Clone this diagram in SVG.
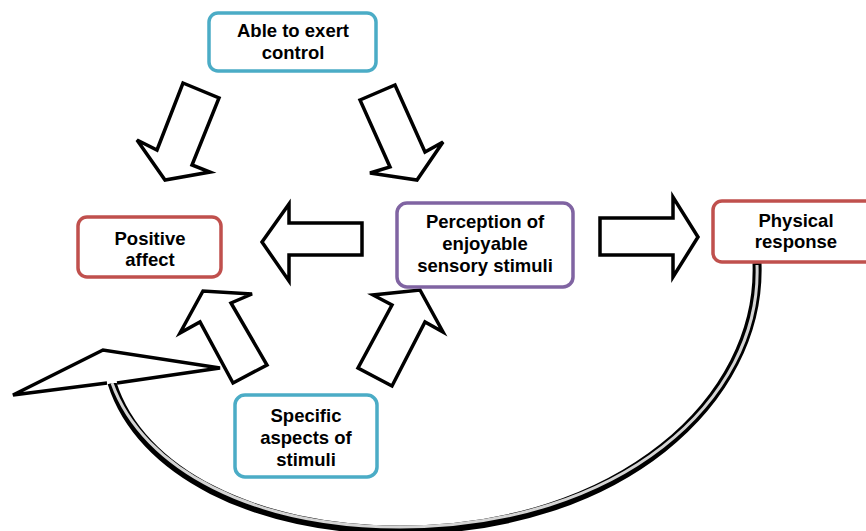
<svg xmlns="http://www.w3.org/2000/svg" width="866" height="531" viewBox="0 0 866 531">
<style>
.box{fill:#fff;stroke-width:3.5}
.teal{stroke:#4bacc6}
.red{stroke:#c0504d}
.purple{stroke:#8064a2}
.lbl{font-family:"Liberation Sans",Arial,sans-serif;font-weight:bold;font-size:18.5px;fill:#000;text-anchor:middle}
.blk{fill:#fff;stroke:#000;stroke-width:3.5;stroke-linejoin:miter}
</style>
<rect width="866" height="531" fill="#fff"/>
<g id="connectors">
  <polygon class="blk" points="183,83 219,98 192,165 210,172 165,180 137,140 157,150"/>
  <polygon class="blk" points="360,100 395,85 425,152 443,142 417,180 370,173 390,167"/>
  <polygon class="blk" points="362,223 289,223 289,204 262,242 289,281 289,255 362,255"/>
  <polygon class="blk" points="600,218 673,218 673,197 698,237 673,277 673,255 600,255"/>
  <polygon class="blk" points="233,383 267,365 231,303 252,294 203,291 180,333 200,322"/>
  <polygon class="blk" points="392,386 358,368 392,305 373,295 420,290 443,332 425,322"/>
  <g id="feedback">
    <path d="M757,263 C762,400 620,530 400,530 C255,530 140,472 112,383" fill="none" stroke="#000" stroke-width="9"/>
    <path d="M757,265 C762,400 620,527 400,527 C255,527 143,470 112,383" fill="none" stroke="#d4d4d4" stroke-width="3"/>
    <path d="M107,383 L13,395 L103,350 L220,368 L117,383" fill="#fff" stroke="#000" stroke-width="3.5" stroke-linejoin="miter"/>
  </g>
</g>
<g id="able">
  <rect class="box teal" x="209" y="13" width="167" height="58" rx="9"/>
  <text class="lbl" x="293" y="37">Able to exert</text>
  <text class="lbl" x="293" y="59">control</text>
</g>
<g id="positive">
  <rect class="box red" x="78" y="217" width="143" height="60" rx="9"/>
  <text class="lbl" x="150" y="245">Positive</text>
  <text class="lbl" x="150" y="266">affect</text>
</g>
<g id="perception">
  <rect class="box purple" x="397" y="203" width="176" height="84" rx="10"/>
  <text class="lbl" x="485" y="228">Perception of</text>
  <text class="lbl" x="485" y="250">enjoyable</text>
  <text class="lbl" x="485" y="272">sensory stimuli</text>
</g>
<g id="physical">
  <rect class="box red" x="713" y="201" width="170" height="61" rx="9"/>
  <text class="lbl" x="796" y="227">Physical</text>
  <text class="lbl" x="796" y="248">response</text>
</g>
<g id="specific">
  <rect class="box teal" x="235" y="395" width="142" height="82" rx="10"/>
  <text class="lbl" x="306" y="422">Specific</text>
  <text class="lbl" x="306" y="444">aspects of</text>
  <text class="lbl" x="306" y="466">stimuli</text>
</g>
</svg>
